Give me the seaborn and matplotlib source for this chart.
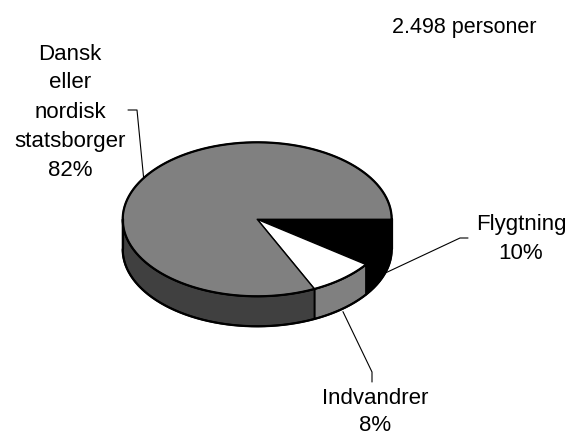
import numpy as np
import pandas as pd
import matplotlib
matplotlib.use("Agg")
import matplotlib.pyplot as plt
from matplotlib.patches import Polygon
import seaborn as sns

# ---- data ----
categories = ["Flygtning", "Indvandrer", "Dansk\neller\nnordisk\nstatsborger"]
shares = [10, 8, 82]
top_colors = ["#000000", "#ffffff", "#808080"]
side_colors = ["#000000", "#808080", "#404040"]
total_label = "2.498 personer"

df = pd.DataFrame({"category": categories, "share": shares,
                   "top": top_colors, "side": side_colors})

sns.set_theme(style="white")
plt.rcParams["font.family"] = ["Liberation Sans", "DejaVu Sans"]

fig = plt.figure(figsize=(5.73, 4.37), dpi=100)
ax = fig.add_axes([0, 0, 1, 1])
ax.set_xlim(0, 573)
ax.set_ylim(437, 0)
ax.axis("off")

# ellipse geometry (pixel space, y downward, angles clockwise from 3 o'clock)
cx, cy, a, b, depth = 257.2, 219.3, 134.5, 77.0, 30.0

def pt(theta_deg, dz=0.0):
    t = np.radians(theta_deg)
    return cx + a * np.cos(t), cy + b * np.sin(t) + dz

fr = df["share"] / df["share"].sum() * 360.0
ends = np.cumsum(fr.values)
starts = ends - fr.values

# side walls (visible front half 0..180 deg)
for s, e, col in zip(starts, ends, df["side"]):
    lo, hi = max(s, 0), min(e, 180)
    if hi <= lo:
        continue
    th = np.linspace(lo, hi, 80)
    top = [pt(t) for t in th]
    bot = [pt(t, depth) for t in th[::-1]]
    ax.add_patch(Polygon(top + bot, closed=True, facecolor=col,
                         edgecolor="black", linewidth=1.3, joinstyle="round"))

# top face wedges
for s, e, col in zip(starts, ends, df["top"]):
    th = np.linspace(s, e, 200)
    verts = [(cx, cy)] + [pt(t) for t in th]
    ax.add_patch(Polygon(verts, closed=True, facecolor=col,
                         edgecolor="black", linewidth=1.0, joinstyle="round"))

# outer outline of the top face and side
th = np.linspace(0, 360, 400)
ax.plot([pt(t)[0] for t in th], [pt(t)[1] for t in th], color="black", lw=1.6)
th = np.linspace(0, 180, 200)
ax.plot([pt(t, depth)[0] for t in th], [pt(t, depth)[1] for t in th],
        color="black", lw=1.6)
ax.plot([cx + a, cx + a], [cy, cy + depth], color="black", lw=1.6)
ax.plot([cx - a, cx - a], [cy, cy + depth], color="black", lw=1.6)

# labels with leader lines
mids = (starts + ends) / 2
fs = 16
label_pos = [(521, 239), (375, 412), (70, 112)]
label_ls = [1.5, 1.4, 1.5]
leader_knee = [[(468, 238), (460, 238)], [(372, 382), (372, 372)],
               [(128, 110), (137, 110)]]
anchor_dz = [depth, depth + 3, 0]
for i, row in df.iterrows():
    txt = f"{row['category']}\n{row['share']}%"
    x, y = label_pos[i]
    ax.text(x, y, txt, ha="center", va="center", fontsize=fs,
            linespacing=label_ls[i], color="black")
    ax_, ay_ = pt(mids[i], anchor_dz[i])
    pts = leader_knee[i] + [(ax_, ay_)]
    ax.plot([p[0] for p in pts], [p[1] for p in pts], color="black", lw=0.8)

ax.text(464, 27, total_label, ha="center", va="center", fontsize=fs - 0.5,
        color="black")

fig.savefig("out.png", dpi=100, facecolor="white")
